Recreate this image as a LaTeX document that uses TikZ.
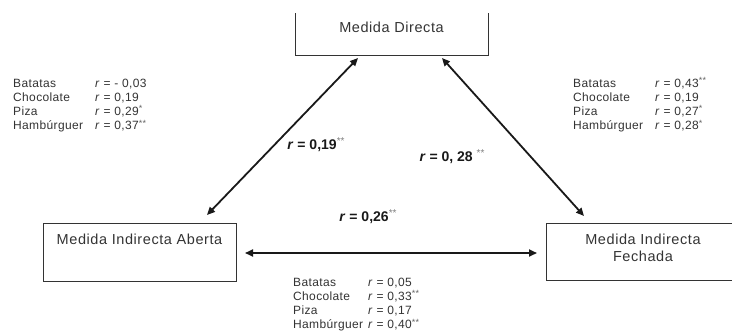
\documentclass[tikz,border=0pt]{standalone}
\usepackage{fontspec}
\setmainfont{Liberation Sans}
\newfontfamily\spacedfont[LetterSpace=4]{Liberation Sans}
\newfontfamily\tabfont[LetterSpace=3]{Liberation Sans}
\usetikzlibrary{arrows.meta}
\newcommand\rr{\textit{r}}
\newcommand\st[1]{\raisebox{0.3em}{\color{black!60}\fontsize{9}{9}\selectfont #1}}
\newcommand\stb[1]{\raisebox{0.35em}{\color{black!50}\mdseries\fontsize{10}{10}\selectfont #1}}
\tikzset{
 boxline/.style={draw=black!80, line width=0.9pt},
 boxnode/.style={inner sep=0pt, outer sep=0pt},
 boxtext/.style={font=\spacedfont\fontsize{14.5}{17}\selectfont, text=black!80, align=center, anchor=north, inner sep=0pt},
 arr/.style={line width=1.8pt, draw=black!90, {Triangle[length=8pt,width=7pt]}-{Triangle[length=8pt,width=7pt]}},
 rlabel/.style={font=\bfseries\fontsize{14}{16}\selectfont, text=black!90},
 tab/.style={anchor=base west, inner sep=0pt, font=\tabfont\fontsize{12}{14.2}\selectfont, text=black!80},
}
\begin{document}
\begin{tikzpicture}[x=1pt,y=-1pt]
\useasboundingbox (0,0) rectangle (732,333);
% boxes
\node[boxnode, minimum width=193pt, minimum height=42pt] (T) at (391.5,34) {};
\draw[boxline] (T.north west) -- (T.south west) -- (T.south east) -- (T.north east);
\node[boxtext] (Tt) at ([yshift=-9pt]T.north) {Medida Directa};

\node[boxnode, minimum width=193pt, minimum height=58pt] (A) at (139.5,252) {};
\draw[boxline] (A.north west) rectangle (A.south east);
\node[boxtext] (At) at ([yshift=-11pt]A.north) {Medida Indirecta Aberta};

\node[boxnode, minimum width=194pt, minimum height=57pt] (F) at (643,251.5) {};
\draw[boxline] (F.north east) -- (F.north west) -- (F.south west) -- (F.south east);
\node[boxtext] (Ft) at ([yshift=-11pt]F.north) {Medida Indirecta\\Fechada};

% arrows
\draw[arr] ([shift={(-29,-8)}]A.north east) -- ([shift={(63,3)}]T.south west);
\draw[arr] ([shift={(-46,3)}]T.south east) -- ([shift={(38,-7)}]F.north west);
\draw[arr] ([shift={(9,1)}]A.east) -- ([shift={(-9,1.5)}]F.west);

% correlation labels
\node[rlabel] (r1) at (316,145) {\rr{} = 0,19\stb{**}};
\node[rlabel] (r2) at (452,157) {\rr{} = 0, 28 \stb{**}};
\node[rlabel] (r3) at (368,217) {\rr{} = 0,26\stb{**}};

% tables
\node[tab] (tl) at (13,87) {\begin{tabular}[t]{@{}p{82pt}@{}l@{}}
Batatas & \rr{} = - 0,03\\
Chocolate & \rr{} = 0,19\\
Piza & \rr{} = 0,29\st{*}\\
Hambúrguer & \rr{} = 0,37\st{**}
\end{tabular}};
\node[tab] (tr) at (573,87) {\begin{tabular}[t]{@{}p{82pt}@{}l@{}}
Batatas & \rr{} = 0,43\st{**}\\
Chocolate & \rr{} = 0,19\\
Piza & \rr{} = 0,27\st{*}\\
Hambúrguer & \rr{} = 0,28\st{*}
\end{tabular}};
\node[tab] (tb) at (293,286) {\begin{tabular}[t]{@{}p{75pt}@{}l@{}}
Batatas & \rr{} = 0,05\\
Chocolate & \rr{} = 0,33\st{**}\\
Piza & \rr{} = 0,17\\
Hambúrguer & \rr{} = 0,40\st{**}
\end{tabular}};
\end{tikzpicture}
\end{document}
